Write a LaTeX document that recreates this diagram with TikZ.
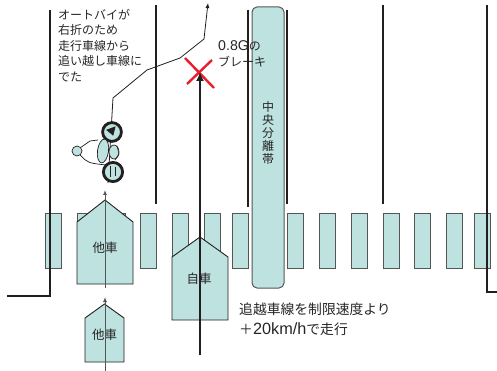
\documentclass[tikz,border=0pt]{standalone}
\usepackage{fontspec}
\setmainfont{Noto Sans CJK JP}
\newfontfamily\latinpart{Liberation Sans}[Scale=1.18]
\usetikzlibrary{arrows.meta}
\definecolor{laneteal}{RGB}{190,226,224}
\definecolor{edgegray}{RGB}{85,85,85}
\definecolor{ink}{RGB}{35,31,32}
\definecolor{brakered}{RGB}{230,30,45}
% car outline: centre x, bottom y, half width, shoulder rise, peak rise
\def\carbox(#1,#2)(#3:#4:#5){\draw[line width=0.9, draw=ink, fill=laneteal] (#1-#3,#2) -- (#1-#3,#2-#4) -- (#1,#2-#5) -- (#1+#3,#2-#4) -- (#1+#3,#2) -- cycle;}

\begin{document}
\begin{tikzpicture}[x=1pt, y=-1pt, every node/.style={text=black!85, inner sep=0}]
		%%%%% START %%%%%
		\useasboundingbox (0,0) rectangle (497,371);
		
		% crosswalk
		\foreach \sx in {45,77,109,140,172,204,232,287,319,351,383,414,446,474}
			\draw[line width=1, draw=edgegray, fill=laneteal] (\sx,213) rectangle (\sx+16,268);
		
		% median strip
		\draw[line width=1, draw=edgegray, fill=laneteal, rounded corners=5] (252,7) rectangle (284,288);
		\node[align=center, font=\fontsize{12}{13}\selectfont] (median) at (268,133) {中\\央\\分\\離\\帯};
		
		% lane lines
		\draw[line width=2, color=ink] (7,296) -- (50,296) -- (50,10);
		\draw[line width=2, color=ink] (156,5) -- (156,204);
		\draw[line width=2, color=ink] (248,10) -- (248,207);
		\draw[line width=2, color=ink] (287,10) -- (287,204);
		\draw[line width=2, color=ink] (383,5) -- (383,204);
		\draw[line width=2, color=ink] (497,292) -- (487,292) -- (487,5);
		
		% other cars
		\carbox(105,284)(28:62:84);
		\carbox(104.5,362)(19.5:44:58);
		\node[font=\fontsize{12.5}{13}\selectfont] (othercar) at (105,248) {他車};
		\node[font=\fontsize{12.5}{13}\selectfont] (othercarb) at (104.5,335) {他車};
		\coordinate (othertail) at (105,288);
		\coordinate (otherhead) at (105,190);
		\coordinate (othertailb) at (105,371);
		\coordinate (otherheadb) at (105,297);
		\draw[line width=0.9, color=edgegray, -{Latex[length=5pt,width=4pt]}] (othertailb) -- (otherheadb);
		\draw[line width=0.9, color=edgegray, -{Latex[length=5pt,width=4pt]}] (othertail) -- (otherhead);
		
		% own car
		\carbox(200,320)(28:63:83);
		\node[font=\fontsize{12.5}{13}\selectfont] (owncar) at (199,279) {自車};
		
		% brake point
		\coordinate (brake) at (200,72);
		\draw[line width=2.4, color=brakered] (185,58) -- (214,88);
		\draw[line width=2.4, color=brakered] (212,60) -- (187,84);
		\coordinate (owntail) at (200,355);
		\draw[line width=2, color=ink, -{Latex[length=9pt,width=8pt]}] (owntail) -- (brake);
		
		% motorbike
		\coordinate (bikestart) at (108,183);
		\coordinate (bikeend) at (208,3);
		\draw[line width=0.8, color=ink, -{Latex[length=5pt,width=4pt]}] (bikestart) -- (113,98) -- (147,70) -- (180,58) -- (204,39) -- (bikeend);
		\draw[line width=2.8, color=ink, fill=laneteal] (112,132) circle (9.4);
		\draw[line width=2.8, color=ink, fill=laneteal] (113,172) circle (9.6);
		\draw[line width=0.7, color=ink] (80,148) -- (90,141) -- (98,140);
		\draw[line width=0.7, color=ink] (80,155) .. controls (88,163) .. (106,165);
		\draw[line width=0.7, color=ink, fill=laneteal] (77,151) circle (5);
		\draw[line width=0.7, color=ink, fill=laneteal, rotate around={-8:(103,151)}] (103,151) ellipse (5.5 and 12);
		\draw[line width=0.7, color=ink, fill=laneteal] (114,152) ellipse (5 and 7);
		\draw[line width=0.8, color=ink, fill=ink] (107,130) -- (115,127) -- (113,135) -- cycle;
		\draw[line width=0.6, color=ink] (110,166) -- (110,177) (115,167) -- (115,176);
		\draw[line width=0.6, color=ink] (117,146) -- (119,154) -- (115,160);
		
		% notes
		\node[anchor=north west, align=left, font=\fontsize{12}{15.5}\selectfont] (bikenote) at (58,9) {オートバイが\\右折のため\\走行車線から\\追い越し車線に\\でた};
		\node[anchor=north west, align=left, font=\fontsize{12}{16}\selectfont] (brakenote) at (218,40) {{\latinpart 0.8G}の\\ブレーキ};
		\node[anchor=north west, align=left, font=\fontsize{13.8}{20}\selectfont] (speednote) at (239,303) {追越車線を制限速度より\\＋{\latinpart 20km/h}で走行};
		
		%%%%% END %%%%%
	\end{tikzpicture}
\end{document}
